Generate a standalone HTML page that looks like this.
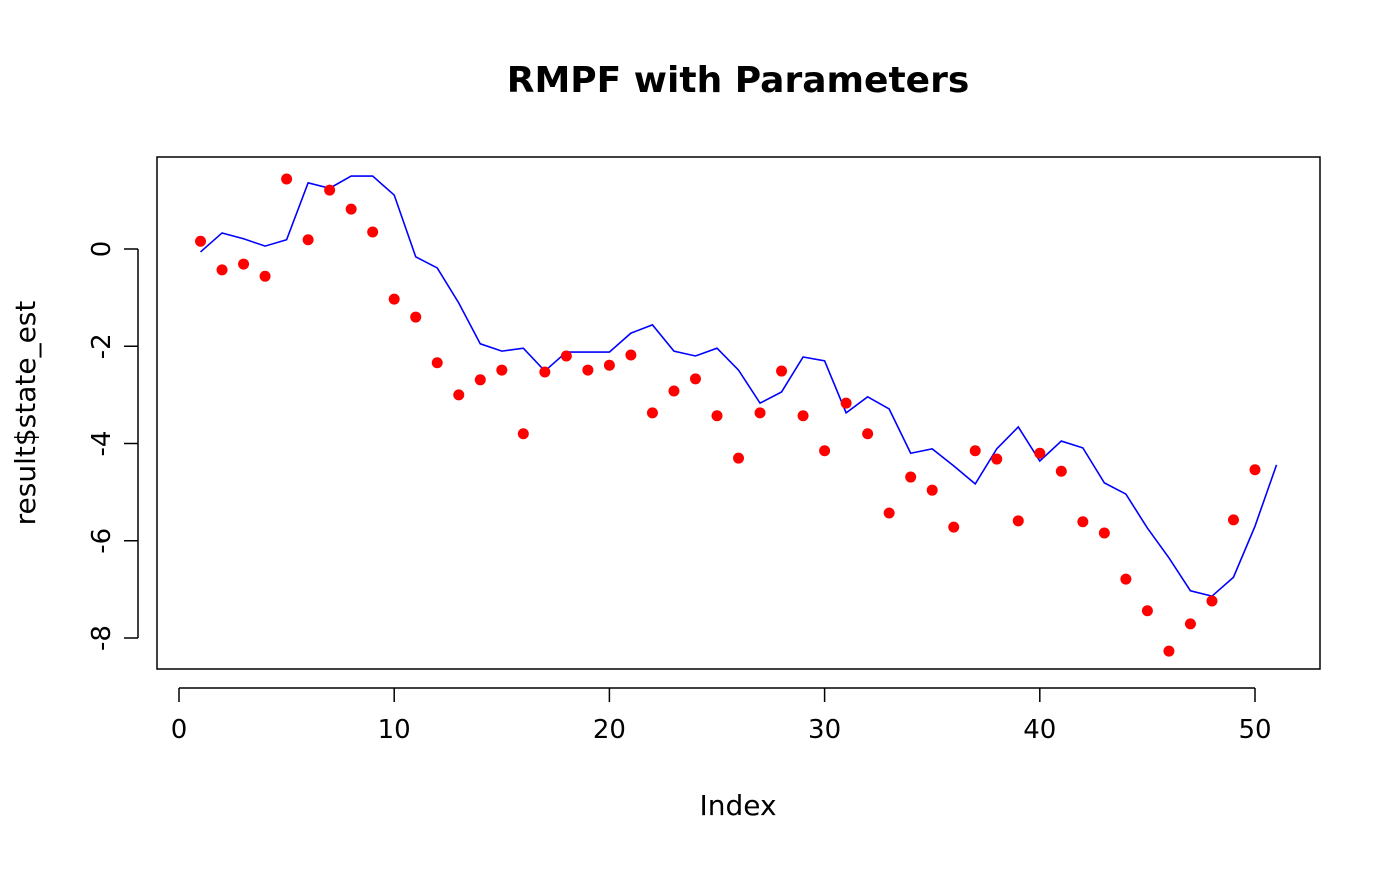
<!DOCTYPE html>
<html><head><meta charset="utf-8"><style>body{margin:0;background:#fff}svg text{font-family:"DejaVu Sans","Liberation Sans",sans-serif}</style></head>
<body>
<svg width="1400" height="866" id="c">
<text x="738" y="92" text-anchor="middle" font-size="36" font-weight="bold">RMPF with Parameters</text>
<rect x="157" y="157" width="1163" height="512" fill="none" stroke="#000" stroke-width="1.5"/>
<text x="738" y="815" text-anchor="middle" font-size="28">Index</text>
<text transform="translate(35,413) rotate(-90)" text-anchor="middle" font-size="28">result$state_est</text>
<g id="ax"></g><g id="marks"></g>
</svg>
<script>
const xTicks=[0,10,20,30,40,50];
const yTicks=[0,-2,-4,-6,-8];
const pointValues=[0.16,-0.43,-0.31,-0.56,1.44,0.19,1.21,0.82,0.35,-1.03,-1.40,-2.34,-3.00,-2.69,-2.49,-3.80,-2.53,-2.20,-2.49,-2.39,-2.18,-3.37,-2.92,-2.67,-3.43,-4.30,-3.37,-2.51,-3.43,-4.15,-3.17,-3.80,-5.43,-4.69,-4.96,-5.72,-4.15,-4.32,-5.59,-4.20,-4.57,-5.61,-5.84,-6.79,-7.44,-8.27,-7.71,-7.24,-5.57,-4.54];
const lineValues=[-0.06,0.33,0.21,0.06,0.19,1.36,1.25,1.50,1.50,1.11,-0.16,-0.39,-1.11,-1.95,-2.10,-2.04,-2.51,-2.12,-2.12,-2.12,-1.73,-1.56,-2.10,-2.20,-2.04,-2.49,-3.17,-2.94,-2.22,-2.30,-3.37,-3.04,-3.29,-4.20,-4.11,-4.46,-4.83,-4.11,-3.66,-4.36,-3.95,-4.09,-4.81,-5.04,-5.74,-6.35,-7.03,-7.14,-6.75,-5.70,-4.44];
const NS="http://www.w3.org/2000/svg";
const X=v=>179+v*21.52, Y=v=>249-v*48.625;
function mk(t,a,p){const e=document.createElementNS(NS,t);for(const k in a)e.setAttribute(k,a[k]);document.getElementById(p).appendChild(e);return e;}
let e=mk('line',{x1:X(0),x2:X(50),y1:688,y2:688,stroke:'#000','stroke-width':1.5},'ax');


xTicks.forEach(t=>{let l=mk('line',{x1:X(t),x2:X(t),y1:688,y2:702,stroke:'#000','stroke-width':1.5},'ax');


let tx=mk('text',{x:X(t),y:738,'text-anchor':'middle','font-size':26},'ax');tx.textContent=t;

});
e=mk('line',{x1:138,x2:138,y1:Y(0),y2:Y(-8),stroke:'#000','stroke-width':1.5},'ax');


yTicks.forEach(t=>{let l=mk('line',{x1:124,x2:138,y1:Y(t),y2:Y(t),stroke:'#000','stroke-width':1.5},'ax');


let tx=mk('text',{transform:`translate(110,${Y(t)}) rotate(-90)`,'text-anchor':'middle','font-size':26},'ax');tx.textContent=t;

});
const pl=mk('polyline',{points:lineValues.map((v,i)=>X(i+1)+','+Y(v)).join(' '),fill:'none',stroke:'#0000ff','stroke-width':1.6},'marks');


pointValues.forEach((v,i)=>{const c=mk('circle',{cx:X(i+1),cy:Y(v),r:5.5,fill:'#ff0000'},'marks');

});
</script>
</body></html>
